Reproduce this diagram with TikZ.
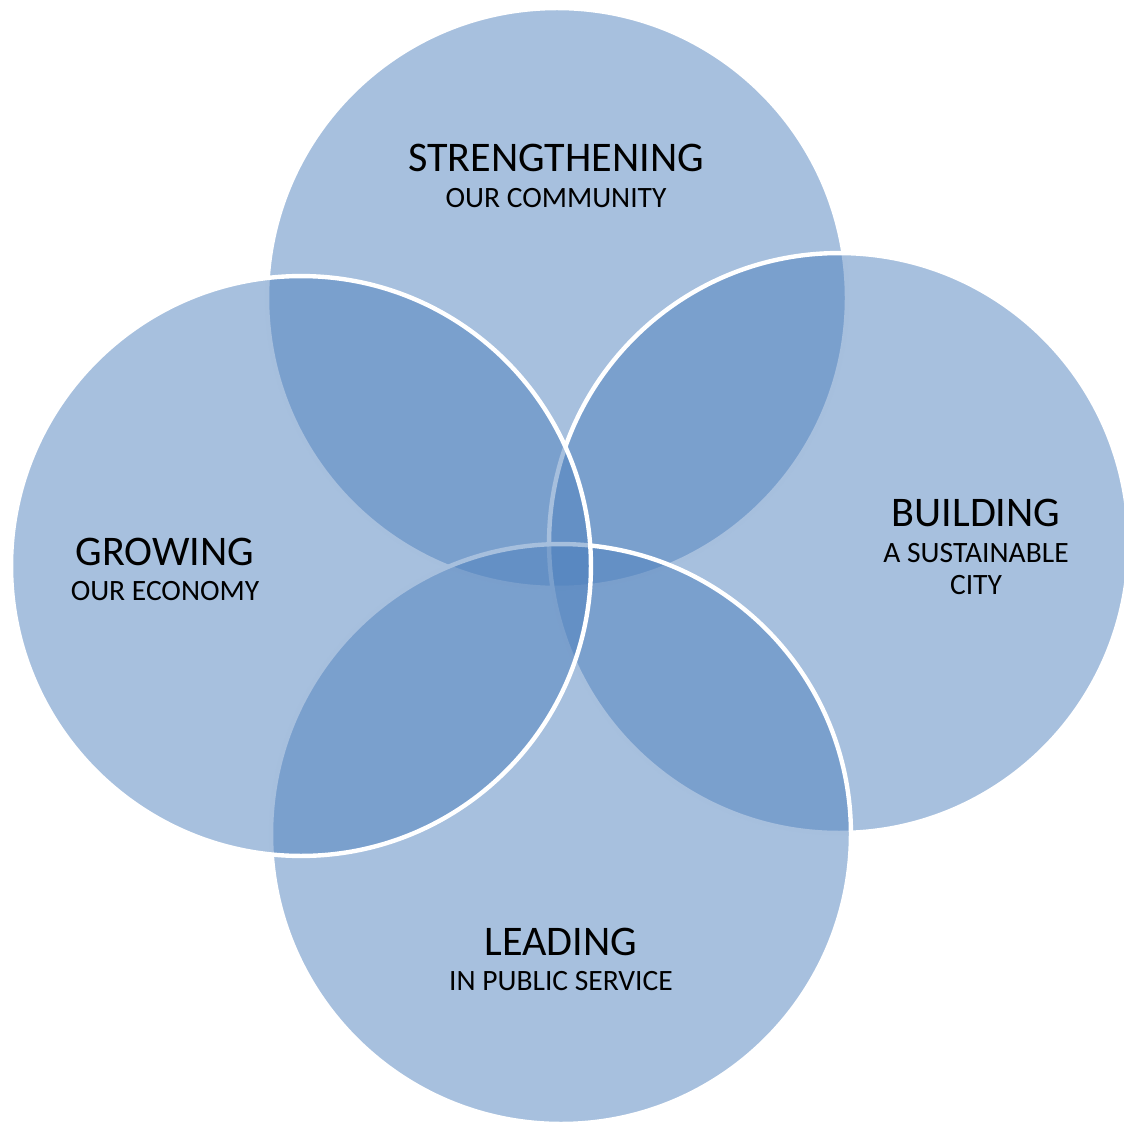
\documentclass[tikz,border=0pt]{standalone}
\usepackage{fontspec}
\setmainfont{Carlito}
\definecolor{accent}{HTML}{4F81BD}
\begin{document}
\begin{tikzpicture}[x=0.02cm,y=-0.02cm,
  ring/.style={circle, inner sep=0pt, minimum size=11.6cm,
    fill=accent, fill opacity=0.5, draw=white, draw opacity=1, line width=2.5pt},
  title/.style={anchor=base, inner sep=0pt, font=\fontsize{24}{28}\selectfont},
  sub/.style={anchor=base, inner sep=0pt, font=\fontsize{16.8}{20}\selectfont}]
\useasboundingbox (0,0) rectangle (1124,1124);
% four overlapping circles, later ones over earlier ones
\node[ring] (top)    at (557,298) {};
\node[ring] (right)  at (839,543) {};
\node[ring] (bottom) at (561,834) {};
\node[ring] (left)   at (301,566) {};
% labels
\node[title] (t1) at (556,172) {STRENGTHENING};
\node[sub]   (s1) at (556,208) {OUR COMMUNITY};
\node[title] (t2) at (165,565) {GROWING};
\node[sub]   (s2) at (165,600) {OUR ECONOMY};
\node[title] (t3) at (976,526) {BUILDING};
\node[sub]   (s3) at (976,562) {A SUSTAINABLE};
\node[sub]   (s3b) at (976,594) {CITY};
\node[title] (t4) at (561,955) {LEADING};
\node[sub]   (s4) at (561,990) {IN PUBLIC SERVICE};
\end{tikzpicture}
\end{document}
